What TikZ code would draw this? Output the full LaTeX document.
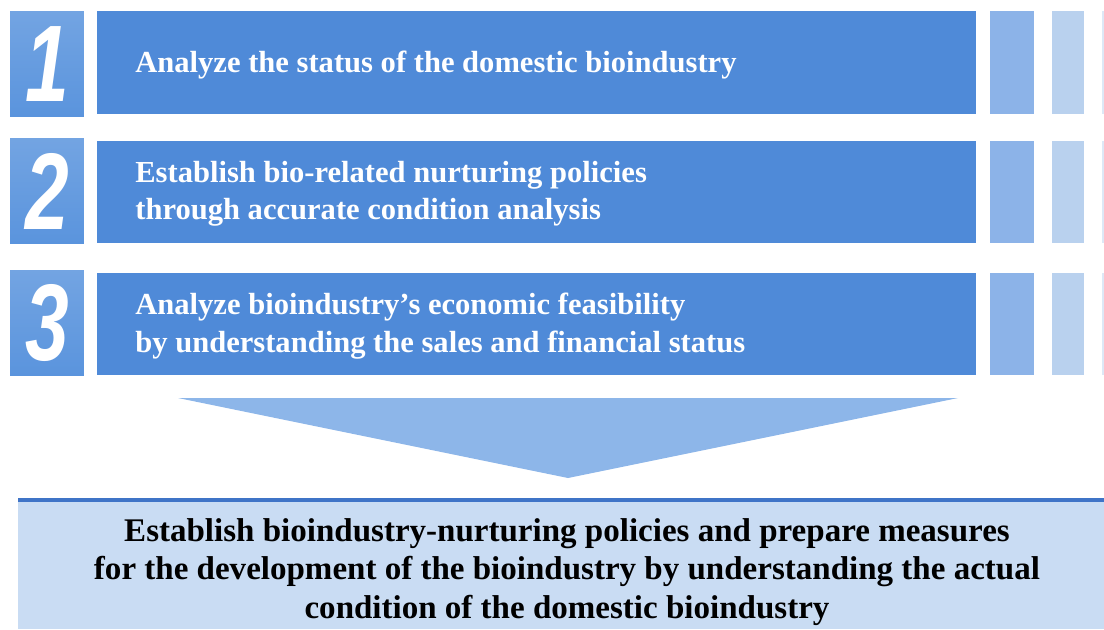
\documentclass[tikz,border=0pt]{standalone}
\usepackage{fontspec}
\setmainfont{Liberation Serif}
\newfontfamily\numfont[FakeStretch=0.72]{Liberation Sans}
\usepackage{xcolor}
\usepackage{tikz}
\usetikzlibrary{positioning}

\definecolor{stepblue}{HTML}{4F8AD8}
\definecolor{numblue}{HTML}{5A94DD}
\definecolor{fadeA}{HTML}{8CB3E8}
\definecolor{fadeB}{HTML}{B9D1EE}
\definecolor{fadeC}{HTML}{DDE8F6}
\definecolor{arrowblue}{HTML}{8DB6E9}
\definecolor{resultfill}{HTML}{C9DCF3}
\definecolor{resultline}{HTML}{3F74C7}

\begin{document}
\begin{tikzpicture}[x=0.02cm,y=-0.02cm,inner sep=0pt,
    numbox/.style={rectangle,top color=numblue!85!white,bottom color=numblue,
        minimum width=1.48cm,minimum height=2.12cm,
        text=white,font=\numfont\bfseries\itshape\fontsize{62}{62}\selectfont},
    stepbox/.style={rectangle,fill=stepblue,anchor=west,minimum width=17.58cm,minimum height=2.06cm},
    steptext/.style={anchor=west,align=left,text=white,font=\bfseries\fontsize{17.4}{21.2}\selectfont},
    fadebox/.style={rectangle,minimum height=2.06cm,anchor=west}]
    \useasboundingbox (0,0) rectangle (1104,629);
    % steps
    \node[numbox] (n1) at (47,64) {1};
    \node[numbox] (n2) at (47,191) {2};
    \node[numbox] (n3) at (47,323) {3};
    \node[stepbox] (s1) at (97,62.5) {};
    \node[stepbox] (s2) at (97,192) {};
    \node[stepbox] (s3) at (97,324) {};
    \node[steptext] (t1) at ([xshift=0.76cm,yshift=-0.06cm]s1.west) {Analyze the status of the domestic bioindustry};
    \node[steptext] (t2) at ([xshift=0.76cm,yshift=-0.04cm]s2.west) {Establish bio-related nurturing policies\\through accurate condition analysis};
    \node[steptext] (t3) at ([xshift=0.76cm,yshift=-0.04cm]s3.west) {Analyze bioindustry’s economic feasibility\\by understanding the sales and financial status};
    % fading bars
    \foreach \s in {1,2,3}{
        \node[fadebox,fill=fadeA,minimum width=0.88cm] (a\s) at (990,0 |- s\s) {};
        \node[fadebox,fill=fadeB,minimum width=0.64cm] (b\s) at (1052,0 |- s\s) {};
        \node[fadebox,fill=fadeC,minimum width=0.04cm] (c\s) at (1102,0 |- s\s) {};
    }
    % arrow
    \fill[arrowblue] (178,398) -- (958,398) -- (568,478) -- cycle;
    % result
    \node[rectangle,fill=resultfill,anchor=north west,minimum width=21.72cm,minimum height=2.58cm] (res) at (18,500) {};
    \draw[resultline,line width=0.08cm] (res.north west) -- (res.north east);
    \node[align=center,font=\bfseries\fontsize{18.8}{22}\selectfont] (restext) at (567,572)
        {Establish bioindustry-nurturing policies and prepare measures\\
         for the development of the bioindustry by understanding the actual\\
         condition of the domestic bioindustry};
\end{tikzpicture}
\end{document}
